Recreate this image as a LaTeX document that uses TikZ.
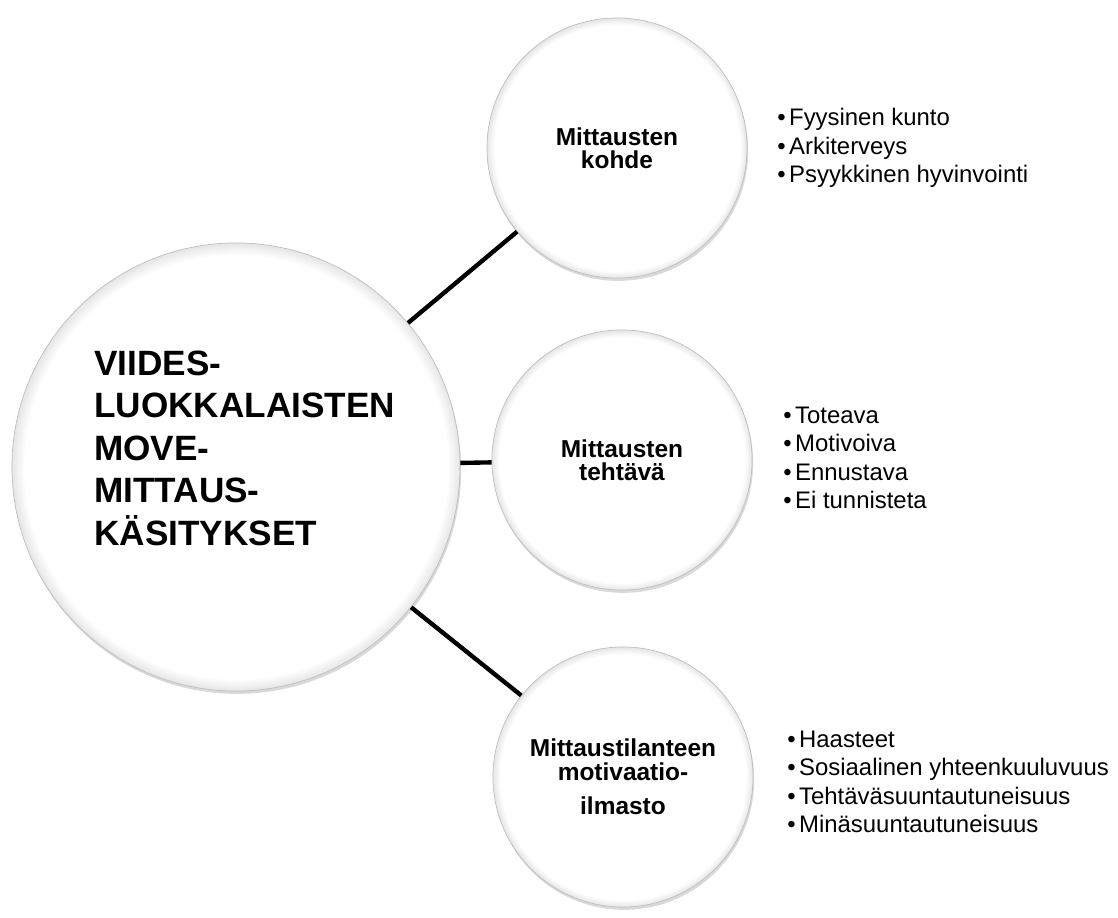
\documentclass[tikz,border=0pt]{standalone}
\usepackage{fontspec}
\setmainfont{Liberation Sans}
\usetikzlibrary{shadows}

\pgfdeclareradialshading{rimfade}{\pgfpoint{0bp}{0bp}}{color(0bp)=(white); color(23.6bp)=(white); color(25bp)=(black!10); color(50bp)=(black!10)}
\newcommand{\itm}{\textbullet\hspace{2.5pt}}

\begin{document}
\begin{tikzpicture}[x=0.025cm, y=-0.025cm,
  bubble/.style={circle, draw=black!25, line width=0.5pt, shade, shading=rimfade,
    drop shadow={shadow xshift=0.8pt, shadow yshift=-2pt, opacity=0.25, fill=black!60},
    align=center, inner sep=0pt, font=\fontsize{17.4}{16.5}\selectfont\bfseries},
  link/.style={line width=3.1pt},
  bullets/.style={anchor=west, align=left, inner sep=0pt, font=\fontsize{17}{20.3}\selectfont}]

\useasboundingbox (0,0) rectangle (1118,918);

%circles
\node[bubble, minimum size=11.2cm] (main) at (236,467) {};
\node[anchor=west, align=left, inner sep=0pt, font=\fontsize{25}{30.2}\selectfont\bfseries] (title) at (94,448)
  {VIIDES-\\LUOKKALAISTEN\\MOVE-\\MITTAUS-\\KÄSITYKSET};

\node[bubble, minimum size=6.5cm] (kohde) at (617,148) {Mittausten\\kohde};
\node[bubble, minimum size=6.5cm] (tehtava) at (622,460) {Mittausten\\tehtävä};
\node[bubble, minimum size=6.5cm] (ilmasto) at (623,777) {Mittaustilanteen\\motivaatio-\\[8pt]ilmasto};

%lines
\draw[link] (main) -- (kohde);
\draw[link] (main) -- (tehtava);
\draw[link] (main) -- (ilmasto);

%lists
\node[bullets] (kohdelist) at (777,148) {\itm Fyysinen kunto\\\itm Arkiterveys\\\itm Psyykkinen hyvinvointi};
\node[bullets] (tehtavalist) at (783,458) {\itm Toteava\\\itm Motivoiva\\\itm Ennustava\\\itm Ei tunnisteta};
\node[bullets] (ilmastolist) at (787,782) {\itm Haasteet\\\itm Sosiaalinen yhteenkuuluvuus\\\itm Tehtäväsuuntautuneisuus\\\itm Minäsuuntautuneisuus};
\end{tikzpicture}
\end{document}
